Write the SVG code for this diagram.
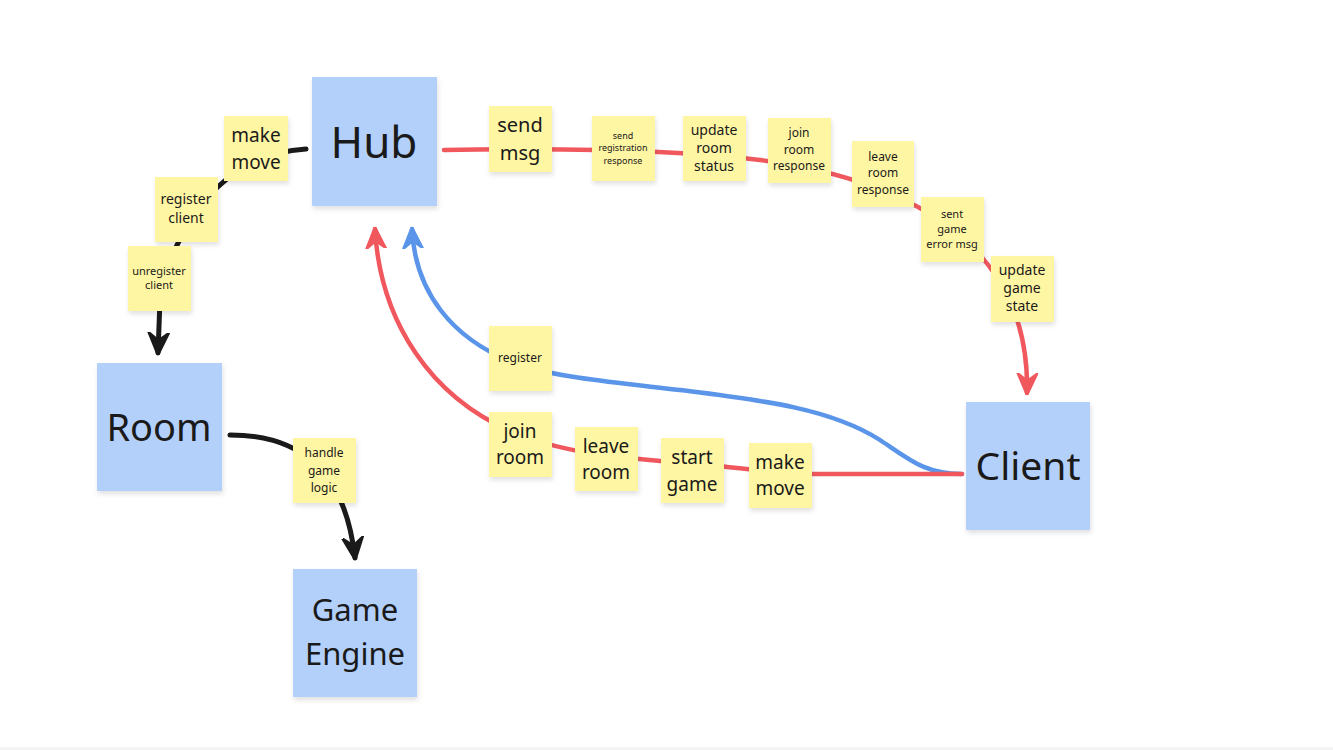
<svg xmlns="http://www.w3.org/2000/svg" width="1333" height="750" viewBox="0 0 1333 750">
<style>
.node{fill:#b3d0fb;filter:url(#sh)}
.sticky{fill:#fff6a3;filter:url(#sh)}
text{font-family:"Noto Sans","Open Sans","Liberation Sans",sans-serif;fill:#1a1a1a;text-anchor:middle}
.c{fill:none;stroke-linecap:round}
.red{stroke:#f0585e;stroke-width:4.5}
.blue{stroke:#5b95e9;stroke-width:4.5}
.black{stroke:#1a1a1a;stroke-width:5}
</style>
<defs>
<filter id="sh" x="-20%" y="-20%" width="150%" height="150%">
<feDropShadow dx="1" dy="3" stdDeviation="2.5" flood-color="#000" flood-opacity="0.12"/>
</filter>
<marker id="ar" viewBox="0 0 10 10" refX="9" refY="5" markerWidth="22" markerHeight="22" markerUnits="userSpaceOnUse" orient="auto"><path d="M0,0.5 L10,5 L0,9.5 L3.5,5 z" fill="#f0585e" stroke="#f0585e" stroke-width="1" stroke-linejoin="round"/></marker>
<marker id="ab" viewBox="0 0 10 10" refX="9" refY="5" markerWidth="22" markerHeight="22" markerUnits="userSpaceOnUse" orient="auto"><path d="M0,0.5 L10,5 L0,9.5 L3.5,5 z" fill="#5b95e9" stroke="#5b95e9" stroke-width="1" stroke-linejoin="round"/></marker>
<marker id="ak" viewBox="0 0 10 10" refX="9" refY="5" markerWidth="23" markerHeight="23" markerUnits="userSpaceOnUse" orient="auto"><path d="M0,0.5 L10,5 L0,9.5 L3.5,5 z" fill="#1a1a1a" stroke="#1a1a1a" stroke-width="1" stroke-linejoin="round"/></marker>
</defs>
<rect width="1333" height="750" fill="#fff"/>
<line x1="0" y1="748.5" x2="1333" y2="748.5" stroke="#f4f4f4" stroke-width="3"/>

<g id="connectors">
<path class="c black" d="M306 149 C262 152 232 170 207 198 C185 225 165 262 160 300 L158 353" marker-end="url(#ak)"/>
<path class="c black" d="M230 435 C300 435 345 470 355 558" marker-end="url(#ak)"/>
<path class="c red" d="M444 150 C560 148 680 150 760 160 C850 172 930 200 980 255 C1020 300 1028 350 1027 393" marker-end="url(#ar)"/>
<path class="c blue" d="M962 474 C925 474 910 460 880 440 C830 408 760 400 680 390 C620 383 560 378 520 365 C450 340 415 290 412 229" marker-end="url(#ab)"/>
<path class="c red" d="M962 474 L812 474 C780 472 750 470 720 466 C680 462 640 460 600 455 C570 450 545 445 520 435 C430 400 380 320 375 229" marker-end="url(#ar)"/>
</g>

<g id="hub"><rect class="node" x="312" y="77" width="125" height="129"/><text x="374" y="158" font-size="44">Hub</text></g>
<g id="room"><rect class="node" x="97" y="363" width="125" height="128"/><text x="159" y="441" font-size="38">Room</text></g>
<g id="game-engine"><rect class="node" x="293" y="569" width="124" height="128"/><text x="355" y="621" font-size="31">Game</text><text x="355" y="665" font-size="31">Engine</text></g>
<g id="client"><rect class="node" x="966" y="402" width="124" height="128"/><text x="1028" y="480" font-size="39">Client</text></g>

<g id="s-make-move-top"><rect class="sticky" x="224" y="116" width="64" height="65"/><text x="256" y="142" font-size="19">make</text><text x="256" y="169" font-size="19">move</text></g>
<g id="s-register-client"><rect class="sticky" x="155" y="177" width="63" height="65"/><text x="186" y="204" font-size="14">register</text><text x="186" y="223" font-size="14">client</text></g>
<g id="s-unregister-client"><rect class="sticky" x="128" y="246" width="63" height="65"/><text x="159" y="275" font-size="11">unregister</text><text x="159" y="289" font-size="11">client</text></g>

<g id="s-send-msg"><rect class="sticky" x="489" y="106" width="63" height="66"/><text x="520" y="132" font-size="20">send</text><text x="520" y="160" font-size="20">msg</text></g>
<g id="s-send-registration-response"><rect class="sticky" x="592" y="116" width="63" height="65"/><text x="623" y="139" font-size="9">send</text><text x="623" y="151" font-size="9">registration</text><text x="623" y="164" font-size="9">response</text></g>
<g id="s-update-room-status"><rect class="sticky" x="683" y="116" width="63" height="65"/><text x="714" y="135" font-size="14">update</text><text x="714" y="153" font-size="14">room</text><text x="714" y="171" font-size="14">status</text></g>
<g id="s-join-room-response"><rect class="sticky" x="768" y="118" width="63" height="65"/><text x="799" y="137" font-size="12">join</text><text x="799" y="154" font-size="12">room</text><text x="799" y="170" font-size="12">response</text></g>
<g id="s-leave-room-response"><rect class="sticky" x="852" y="141" width="62" height="66"/><text x="883" y="161" font-size="12">leave</text><text x="883" y="177" font-size="12">room</text><text x="883" y="194" font-size="12">response</text></g>
<g id="s-sent-game-error-msg"><rect class="sticky" x="921" y="197" width="63" height="65"/><text x="952" y="218" font-size="11">sent</text><text x="952" y="233" font-size="11">game</text><text x="952" y="248" font-size="11">error msg</text></g>
<g id="s-update-game-state"><rect class="sticky" x="991" y="256" width="63" height="66"/><text x="1022" y="275" font-size="14">update</text><text x="1022" y="293" font-size="14">game</text><text x="1022" y="311" font-size="14">state</text></g>

<g id="s-register"><rect class="sticky" x="489" y="326" width="63" height="65"/><text x="520" y="362" font-size="12">register</text></g>
<g id="s-join-room"><rect class="sticky" x="489" y="412" width="63" height="65"/><text x="520" y="438" font-size="19">join</text><text x="520" y="464" font-size="19">room</text></g>
<g id="s-leave-room"><rect class="sticky" x="575" y="427" width="63" height="64"/><text x="606" y="453" font-size="19">leave</text><text x="606" y="479" font-size="19">room</text></g>
<g id="s-start-game"><rect class="sticky" x="661" y="438" width="63" height="65"/><text x="692" y="464" font-size="19">start</text><text x="692" y="491" font-size="19">game</text></g>
<g id="s-make-move"><rect class="sticky" x="749" y="443" width="63" height="65"/><text x="780" y="469" font-size="19">make</text><text x="780" y="495" font-size="19">move</text></g>
<g id="s-handle-game-logic"><rect class="sticky" x="293" y="438" width="63" height="65"/><text x="324" y="457" font-size="12">handle</text><text x="324" y="475" font-size="12">game</text><text x="324" y="492" font-size="12">logic</text></g>
</svg>
